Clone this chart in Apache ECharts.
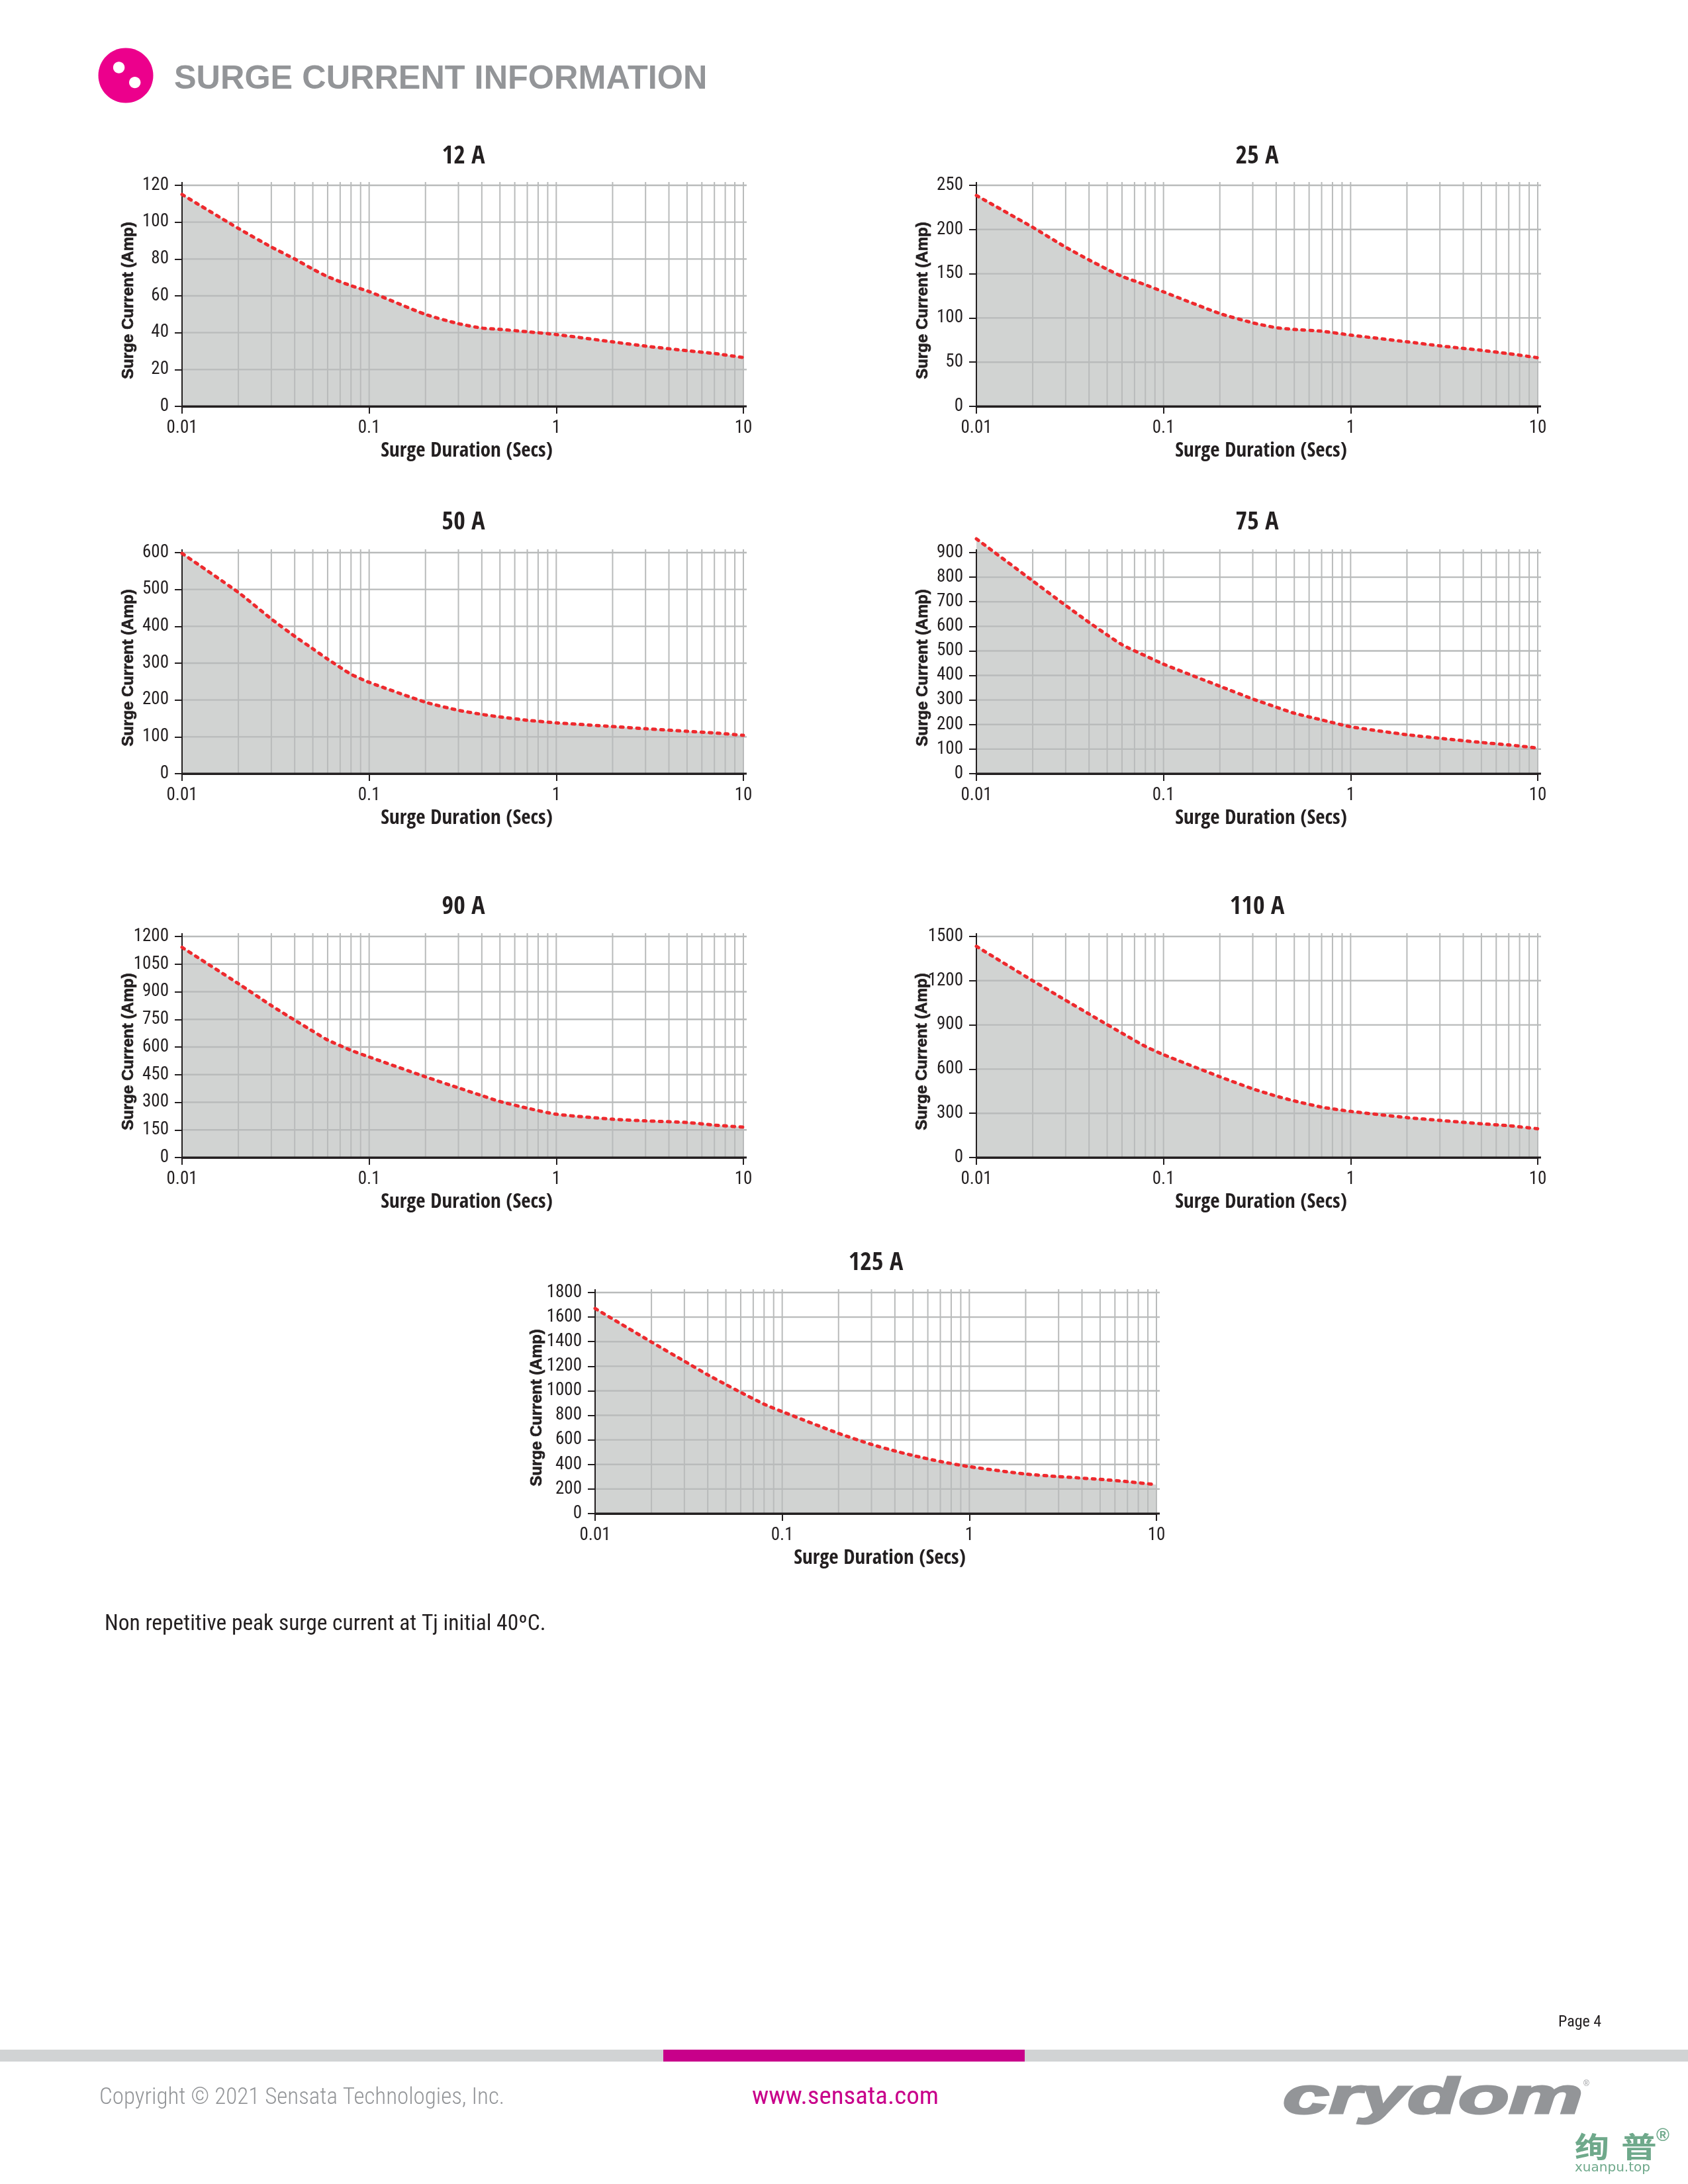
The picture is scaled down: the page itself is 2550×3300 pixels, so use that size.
<!DOCTYPE html>
<html>
<head>
<meta charset="utf-8">
<title>Surge Current Information</title>
<style>html,body{margin:0;padding:0;background:#fff}#c{width:2550px;height:3300px}</style>
<script src="https://cdn.jsdelivr.net/npm/echarts@6/dist/echarts.min.js"></script>
</head>
<body>
<div id="c"></div>
<script>
// ---- data ----
const durations = [0.01,0.02,0.03,0.04,0.05,0.06,0.08,0.1,0.2,0.3,0.4,0.5,0.7,1,2,3,5,7,10];
const current12A  = [115,96.6,86.5,80,74.5,70.4,65.5,62.3,49.9,44.9,42.5,41.8,40.5,39,35,32.7,30.2,28.7,26.5];
const current25A  = [238.5,202.5,180,165.6,155,147,137.5,129.5,105,94.5,89,87,85,80.6,73,68.4,63.4,59.6,55];
const current50A  = [598,492,420,373,339,311,270,248,194,172,161,154,145,138,128,122,115,110.6,104];
const current75A  = [956,785,685,616,565,525,480,446,356,304,271,246,219,191,158.6,144,127,117,104.5];
const current90A  = [1141,944,825,746,686,638,582,546,438,378,336,304,268,235,208,199,190,176,165];
const current110A = [1433,1200,1067,974,902,844,754,698,548,466,417,384,342,313,271,252,229,216,195];
const current125A = [1670,1397,1241,1130,1051,987,891,830,653,563,510,473,424,382,322,301,279,260,235];
const panelTitles = ['12 A','25 A','50 A','75 A','90 A','110 A','125 A'];
const panelSeries = [current12A,current25A,current50A,current75A,current90A,current110A,current125A];
const yMaxima     = [120,250,600,900,1200,1500,1800];
const yIntervals  = [20,50,100,100,150,300,200];
const verticalGridDurations = [0.02,0.03,0.04,0.05,0.06,0.07,0.08,0.09,0.1,0.2,0.3,0.4,0.5,0.6,0.7,0.8,0.9,1,2,3,4,5,6,7,8,9,10];
const xAxisName = 'Surge Duration (Secs)';
const yAxisName = 'Surge Current (Amp)';

// ---- layout ----
const gridLeft = [275,1475,275,1475,275,1475,899];
const gridTop  = [280,280,835,835,1415,1415,1953];
const gridW = 848, gridH = 334;
const titleCx = [695,1894,695,1894,695,1894,1318];
const titleCy = [234,234,787,787,1368,1368,1906];
const yNameGap = [69,69,69,69,69,70,76];
const LABEL = '"Roboto Condensed","Liberation Sans",sans-serif';
const BOLDC = '"Open Sans Condensed","Roboto Condensed",sans-serif';
const WIDE = '"Liberation Sans",sans-serif';
const INK = '#231f20', GRIDC = '#b9bbbb', AREA = '#d1d3d2', RED = '#ee2a2e';
const OVER = 5;

const grids=[],xAxes=[],yAxes=[],series=[],titles=[];
panelTitles.forEach((t,i)=>{
  grids.push({left:gridLeft[i],top:gridTop[i],width:gridW,height:gridH,containLabel:false});
  titles.push({text:t,left:titleCx[i],top:titleCy[i]-21,textAlign:'center',
    textStyle:{fontFamily:BOLDC,fontWeight:'bold',fontSize:38,color:INK}});
  xAxes.push({gridIndex:i,type:'log',logBase:10,min:0.01,max:10,z:6,
    axisLine:{show:true,onZero:false,lineStyle:{color:INK,width:3}},
    axisTick:{show:true,length:11,lineStyle:{color:INK,width:2}},
    minorTick:{show:false},splitLine:{show:false},minorSplitLine:{show:false},
    axisLabel:{margin:20,fontFamily:LABEL,fontSize:27,color:INK,showMinLabel:true,showMaxLabel:true,hideOverlap:false},
    name:xAxisName,nameLocation:'middle',nameGap:52,
    nameTextStyle:{fontFamily:BOLDC,fontWeight:'bold',fontSize:31,color:INK,padding:[0,0,0,12]}});
  yAxes.push({gridIndex:i,type:'value',min:0,max:yMaxima[i],interval:yIntervals[i],z:6,
    axisLine:{show:true,lineStyle:{color:INK,width:2}},
    axisTick:{show:true,length:11,lineStyle:{color:INK,width:2}},
    splitLine:{show:false},
    axisLabel:{margin:20,fontFamily:LABEL,fontSize:27,color:INK,hideOverlap:false,formatter:v=>String(v)},
    name:yAxisName,nameLocation:'middle',nameGap:yNameGap[i],nameRotate:90,nameMoveOverlap:false,
    nameTextStyle:{fontFamily:WIDE,fontWeight:'bold',fontSize:24,color:INK,textBorderColor:INK,textBorderWidth:0.7,padding:[0,14,0,0]}});
  const pts = durations.map((d,k)=>[d,panelSeries[i][k]]);
  // filled region under the curve
  series.push({type:'line',name:t+' area',xAxisIndex:i,yAxisIndex:i,data:pts,showSymbol:false,smooth:0.2,
    clip:false,silent:true,z:2,lineStyle:{width:0,opacity:0},areaStyle:{color:AREA,opacity:1},animation:false});
  // vertical gridlines, over the fill
  series.push({type:'custom',name:t+' vgrid',xAxisIndex:i,yAxisIndex:i,clip:false,silent:true,z:3,animation:false,
    encode:{x:0,y:1},data:verticalGridDurations.map(v=>[v,yMaxima[i]]),
    renderItem:(p,api)=>{
      const a=api.coord([api.value(0),0]),b=api.coord([api.value(0),api.value(1)]);
      return {type:'line',shape:{x1:a[0],y1:a[1],x2:b[0],y2:b[1]-OVER},style:{stroke:GRIDC,lineWidth:2}};
    }});
  // horizontal gridlines, over the fill
  const ticks=[];for(let v=yIntervals[i];v<=yMaxima[i];v+=yIntervals[i])ticks.push([0.01,v]);
  series.push({type:'custom',name:t+' hgrid',xAxisIndex:i,yAxisIndex:i,clip:false,silent:true,z:3,animation:false,
    encode:{x:0,y:1},data:ticks,
    renderItem:(p,api)=>{
      const a=api.coord([0.01,api.value(1)]),b=api.coord([10,api.value(1)]);
      return {type:'line',shape:{x1:a[0],y1:a[1],x2:b[0]+OVER,y2:b[1]},style:{stroke:GRIDC,lineWidth:2.4}};
    }});
  // axis overshoot at the top of the y axis and the right of the x axis
  series.push({type:'custom',name:t+' axis ends',xAxisIndex:i,yAxisIndex:i,clip:false,silent:true,z:6,animation:false,
    encode:{x:0,y:1},data:[[0.01,yMaxima[i]]],
    renderItem:(p,api)=>{
      const o=api.coord([0.01,0]),t1=api.coord([0.01,api.value(1)]),r=api.coord([10,0]);
      return {type:'group',children:[
        {type:'line',shape:{x1:o[0],y1:o[1],x2:t1[0],y2:t1[1]-OVER},style:{stroke:INK,lineWidth:2}},
        {type:'line',shape:{x1:o[0],y1:o[1],x2:r[0]+OVER,y2:r[1]},style:{stroke:INK,lineWidth:3}}]};
    }});
  // dotted red curve
  series.push({type:'line',name:t,xAxisIndex:i,yAxisIndex:i,data:pts,showSymbol:false,smooth:0.2,
    clip:false,silent:true,z:7,lineStyle:{color:RED,width:5,type:[4,8.2],cap:'round',join:'round'},animation:false});
});

function txt(x,y,text,font,size,weight,color,extra){
  return Object.assign({type:'text',x:x,y:y,silent:true,
    style:{text:text,fontFamily:font,fontSize:size,fontWeight:weight,fill:color,textAlign:'left',textVerticalAlign:'middle'}},extra||{});
}
const graphics=[
  {type:'ellipse',shape:{cx:190,cy:114,rx:41.5,ry:41.5},style:{fill:'#ec008c'}},
  {type:'ellipse',shape:{cx:179.6,cy:102,rx:8.7,ry:8.7},style:{fill:'#fff'}},
  {type:'ellipse',shape:{cx:203.7,cy:124.6,rx:8.7,ry:8.7},style:{fill:'#fff'}},
  txt(263,120,'SURGE CURRENT INFORMATION',WIDE,50,'bold','#939598',{scaleX:1.008}),
  txt(158,2455,'Non repetitive peak surge current at Tj initial 40ºC.',LABEL,32.5,'normal',INK,{scaleX:1.03}),
  txt(2354,3056,'Page 4',LABEL,24,'normal',INK),
  {type:'rect',shape:{x:0,y:3097,width:2550,height:18},style:{fill:'#d1d3d4'}},
  {type:'rect',shape:{x:1002,y:3097,width:546,height:18},style:{fill:'#c8008a'}},
  txt(150,3170,'Copyright © 2021 Sensata Technologies, Inc.',LABEL,35,'300','#939598'),
  txt(1136,3170,'www.sensata.com',LABEL,36,'normal','#c8008a',{scaleX:1.08}),
  txt(1938,3172,'crydom',WIDE,76,'bold','#939598',{scaleX:1.65,style:{text:'crydom',fontFamily:WIDE,fontSize:76,fontWeight:'bold',fontStyle:'italic',fill:'#939598',stroke:'#939598',lineWidth:3,textAlign:'left',textVerticalAlign:'middle'}}),
  txt(2392,3149,'®',WIDE,12,'normal','#939598'),
  txt(2379,3244,'绚',"'Noto Sans CJK SC'",43,'bold','#6fa98b',{scaleX:1.2}),
  txt(2449,3244,'普',"'Noto Sans CJK SC'",43,'bold','#6fa98b',{scaleX:1.25}),
  txt(2502,3228,'®',WIDE,27,'bold','#6fa98b'),
  txt(2379,3276,'xuanpu.top','"DejaVu Sans",sans-serif',20,'normal','#6fa98b')
];

const chart=echarts.init(document.getElementById('c'),null,{renderer:'canvas',width:2550,height:3300});
chart.setOption({animation:false,backgroundColor:'#fff',title:titles,grid:grids,xAxis:xAxes,yAxis:yAxes,series:series,
  tooltip:{show:false},legend:{show:false},graphic:{elements:graphics}});
</script>
</body>
</html>
